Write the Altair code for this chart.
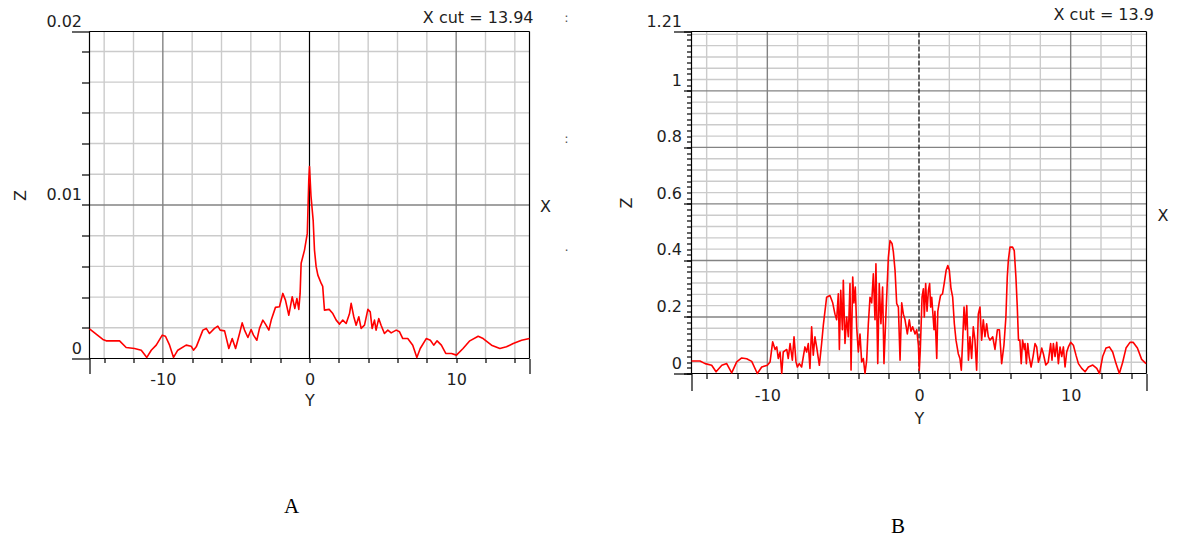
import altair as alt
import pandas as pd

FONT = "DejaVu Sans"
INK = "#1e1e1e"
RED = "#ff0000"
LIGHT = "#cbcbcb"
DARK = "#838383"

# ---------------- profile A: Z along Y, X cut = 13.94 ----------------
a_y = [-15.0, -14.09, -13.86, -12.95, -12.5, -11.93, -11.47, -11.09, -10.79, -10.45,
       -10.04, -9.82, -9.54, -9.27, -8.98, -8.41, -8.07, -7.91, -7.72, -7.27,
       -7.04, -6.82, -6.48, -6.25, -6.09, -5.79, -5.5, -5.27, -5.04, -4.77,
       -4.59, -4.43, -4.2, -3.98, -3.82, -3.59, -3.41, -3.18, -3.0, -2.77,
       -2.61, -2.32, -2.05, -1.82, -1.64, -1.41, -1.18, -1.0, -0.86, -0.73,
       -0.64, -0.57, -0.34, -0.15, -0.05, 0.0, 0.1, 0.25, 0.34, 0.45,
       0.57, 0.8, 0.9, 1.02, 1.34, 1.59, 1.82, 2.05, 2.27, 2.5,
       2.73, 2.84, 3.02, 3.18, 3.36, 3.52, 3.75, 3.98, 4.14, 4.27,
       4.43, 4.54, 4.72, 4.88, 5.11, 5.34, 5.57, 5.91, 6.14, 6.36,
       6.7, 7.04, 7.32, 7.55, 7.96, 8.24, 8.47, 8.7, 8.99, 9.29,
       9.68, 10.02, 10.47, 10.93, 11.5, 11.84, 12.41, 12.98, 13.43, 13.89,
       14.46, 15.0]
a_z = [0.00193, 0.00124, 0.00115, 0.00115, 0.00072, 0.00065, 0.00054, 0.00007, 0.00054, 0.00087,
       0.00152, 0.00145, 0.00087, 0.00007, 0.00054, 0.00087, 0.00080, 0.00054, 0.00076, 0.00185,
       0.00196, 0.00163, 0.00196, 0.00211, 0.00185, 0.00180, 0.00065, 0.00130, 0.00065, 0.00163,
       0.00232, 0.00185, 0.00137, 0.00189, 0.00152, 0.00119, 0.00196, 0.00250, 0.00224, 0.00185,
       0.00250, 0.00333, 0.00337, 0.00424, 0.00380, 0.00282, 0.00402, 0.00326, 0.00391, 0.00320,
       0.00424, 0.00620, 0.00706, 0.00815, 0.01160, 0.01250, 0.01060, 0.00900, 0.00706, 0.00600,
       0.00543, 0.00489, 0.00470, 0.00315, 0.00320, 0.00293, 0.00250, 0.00224, 0.00250, 0.00228,
       0.00293, 0.00359, 0.00272, 0.00217, 0.00272, 0.00196, 0.00217, 0.00320, 0.00304, 0.00196,
       0.00250, 0.00185, 0.00260, 0.00217, 0.00163, 0.00185, 0.00167, 0.00185, 0.00174, 0.00130,
       0.00130, 0.00087, 0.00007, 0.00065, 0.00130, 0.00119, 0.00087, 0.00115, 0.00087, 0.00033,
       0.00033, 0.00022, 0.00065, 0.00115, 0.00145, 0.00130, 0.00087, 0.00065, 0.00076, 0.00098,
       0.00119, 0.00130]

# ---------------- profile B: Z along Y, X cut = 13.9 ----------------
b_y = [-15.0, -14.44, -14.1, -13.67, -13.38, -13.0, -12.68, -12.35, -12.02, -11.69,
       -11.36, -11.03, -10.66, -10.37, -10.0, -9.82, -9.65, -9.49, -9.38, -9.28,
       -9.16, -9.05, -8.95, -8.72, -8.62, -8.5, -8.35, -8.24, -8.11, -8.02,
       -7.89, -7.74, -7.52, -7.41, -7.3, -7.19, -7.08, -6.97, -6.86, -6.75,
       -6.57, -6.42, -6.31, -6.09, -5.87, -5.69, -5.54, -5.43, -5.32, -5.25,
       -5.16, -5.05, -4.99, -4.88, -4.77, -4.66, -4.55, -4.48, -4.37, -4.29,
       -4.2, -4.11, -4.0, -3.89, -3.78, -3.67, -3.56, -3.45, -3.34, -3.23,
       -3.12, -3.01, -2.9, -2.84, -2.72, -2.62, -2.51, -2.4, -2.31, -2.18,
       -2.02, -1.91, -1.78, -1.69, -1.58, -1.47, -1.36, -1.25, -1.14, -1.03,
       -0.92, -0.77, -0.64, -0.53, -0.42, -0.26, -0.15, -0.04, 0.02, 0.09,
       0.2, 0.29, 0.35, 0.44, 0.53, 0.62, 0.7, 0.77, 0.84, 0.99,
       1.05, 1.17, 1.24, 1.33, 1.42, 1.55, 1.66, 1.79, 1.9, 2.0,
       2.11, 2.22, 2.33, 2.44, 2.59, 2.7, 2.79, 2.88, 2.97, 3.06,
       3.15, 3.26, 3.36, 3.47, 3.58, 3.69, 3.8, 3.91, 4.02, 4.13,
       4.24, 4.35, 4.46, 4.57, 4.68, 4.86, 5.01, 5.17, 5.3, 5.45,
       5.6, 5.73, 5.82, 5.89, 6.0, 6.17, 6.28, 6.39, 6.48, 6.56,
       6.65, 6.74, 6.83, 6.94, 6.99, 7.08, 7.17, 7.26, 7.39, 7.52,
       7.65, 7.76, 7.87, 7.98, 8.09, 8.2, 8.36, 8.52, 8.68, 8.77,
       8.86, 8.97, 9.08, 9.19, 9.3, 9.41, 9.52, 9.63, 9.74, 9.85,
       10.0, 10.18, 10.35, 10.51, 10.73, 10.95, 11.17, 11.46, 11.72, 11.9,
       12.11, 12.33, 12.55, 12.77, 12.99, 13.21, 13.43, 13.65, 13.91, 14.13,
       14.4, 14.68, 14.97]
b_z = [0.044, 0.044, 0.035, 0.029, 0.006, 0.029, 0.035, 0.002, 0.041, 0.055,
       0.052, 0.043, 0.0, 0.023, 0.029, 0.041, 0.112, 0.085, 0.094, 0.053,
       0.076, 0.0, 0.076, 0.085, 0.053, 0.106, 0.047, 0.13, 0.041, 0.023,
       0.035, 0.023, 0.094, 0.076, 0.106, 0.018, 0.165, 0.065, 0.13, 0.094,
       0.029, 0.106, 0.17, 0.27, 0.276, 0.25, 0.21, 0.19, 0.282, 0.085,
       0.294, 0.155, 0.33, 0.106, 0.2, 0.13, 0.318, 0.012, 0.341, 0.25,
       0.306, 0.165, 0.076, 0.14, 0.041, 0.053, 0.0, 0.047, 0.176, 0.27,
       0.25, 0.353, 0.19, 0.388, 0.035, 0.318, 0.176, 0.306, 0.035, 0.21,
       0.41, 0.47, 0.46, 0.43, 0.365, 0.247, 0.235, 0.047, 0.25, 0.21,
       0.19, 0.14, 0.19, 0.15, 0.165, 0.14, 0.155, 0.1, 0.012, 0.09,
       0.27, 0.3, 0.2, 0.318, 0.22, 0.294, 0.318, 0.235, 0.27, 0.155,
       0.22, 0.053, 0.22, 0.25, 0.276, 0.282, 0.318, 0.365, 0.382, 0.365,
       0.3, 0.27, 0.176, 0.118, 0.07, 0.053, 0.012, 0.118, 0.235, 0.155,
       0.24, 0.047, 0.13, 0.053, 0.165, 0.118, 0.012, 0.21, 0.235, 0.118,
       0.19, 0.13, 0.176, 0.13, 0.118, 0.13, 0.085, 0.155, 0.155, 0.035,
       0.1, 0.2, 0.341, 0.4, 0.447, 0.447, 0.435, 0.341, 0.235, 0.118,
       0.118, 0.035, 0.118, 0.085, 0.106, 0.035, 0.106, 0.06, 0.023, 0.06,
       0.106, 0.094, 0.04, 0.06, 0.09, 0.07, 0.03, 0.04, 0.106, 0.047,
       0.106, 0.06, 0.11, 0.035, 0.094, 0.06, 0.094, 0.023, 0.076, 0.094,
       0.11, 0.1, 0.065, 0.035, 0.018, 0.006, 0.023, 0.03, 0.018, 0.0,
       0.06, 0.09, 0.094, 0.076, 0.035, 0.0, 0.04, 0.09, 0.11, 0.11,
       0.09, 0.05, 0.035]

# ---------------- axis values ----------------
y_span = [-15, 15]
y_ticks = [-14, -12, -10, -8, -6, -4, -2, 0, 2, 4, 6, 8, 10, 12, 14]
y_grid = [-14, -12, -8, -6, -4, -2, 2, 4, 6, 8, 12, 14]
y_grid_major = [-10, 10]
y_tick_labels = [-10, 0, 10]

a_top = 0.0213
a_ticks = [0.002, 0.004, 0.006, 0.008, 0.010, 0.012, 0.014, 0.016, 0.018, 0.020]
a_grid = [0.002, 0.004, 0.006, 0.008, 0.012, 0.014, 0.016, 0.018, 0.020]
a_grid_major = [0.01]
a_tick_labels = [0, 0.01, a_top]

b_top = 1.21
b_ticks = [round(0.02 * i, 2) for i in range(61)]
b_grid = [0.04, 0.08, 0.12, 0.16, 0.24, 0.28, 0.32, 0.36, 0.44, 0.48, 0.52, 0.56,
          0.64, 0.68, 0.72, 0.76, 0.84, 0.88, 0.92, 0.96, 1.04, 1.08, 1.12, 1.16, 1.20]
b_grid_major = [0.2, 0.4, 0.6, 0.8, 1.0]
b_tick_labels = [0, 0.2, 0.4, 0.6, 0.8, 1.0, b_top]

Y_LABEL_EXPR = f"indexof({y_tick_labels}, datum.value) >= 0 ? toString(datum.value) : ''"
Z_LABEL_EXPR = "format(datum.value, '.2~f')"

# ---------------- layout: both panels share one drawing area ----------------
W, H = 1057, 342            # full drawing area
A_X0, A_X1, A_H = 0, 440, 327
B_X0, B_X1, B_H = 602, 1057, 342
GRID_W = 1.4


class Panel:
    def __init__(self, x0, x1, h, top):
        self.x0, self.x1, self.h, self.top = x0, x1, h, top
        self.xs = alt.Scale(domain=y_span, range=[x0, x1], nice=False, zero=False)
        self.ys = alt.Scale(domain=[0, top], range=[h, 0], nice=False, zero=False)
        self.left_offset = -x0          # left axes sit on the panel's left edge
        self.bottom_offset = h - H      # bottom axes sit on the panel's bottom edge

    def vrules(self, values, color, axis=None, dash=None, width=GRID_W):
        props = dict(color=color, strokeWidth=width)
        if dash:
            props["strokeDash"] = dash
        return alt.Chart(pd.DataFrame({"v": values})).mark_rule(**props).encode(
            x=alt.X("v:Q", scale=self.xs, axis=axis),
            y=alt.YDatum(0, type="quantitative", scale=self.ys, axis=None),
            y2=alt.Y2Datum(self.top),
        )

    def hrules(self, values, color, axis=None, width=GRID_W):
        return alt.Chart(pd.DataFrame({"v": values})).mark_rule(color=color, strokeWidth=width).encode(
            y=alt.Y("v:Q", scale=self.ys, axis=axis),
            x=alt.XDatum(-15, type="quantitative", scale=self.xs, axis=None),
            x2=alt.X2Datum(15),
        )

    def curve(self, pos, z, width):
        return alt.Chart(pd.DataFrame({"pos": pos, "z": z})).mark_line(
            color=RED, strokeWidth=width, strokeJoin="round"
        ).encode(
            x=alt.X("pos:Q", scale=self.xs, axis=None),
            y=alt.Y("z:Q", scale=self.ys, axis=None),
        )

    def note(self, text, x, y, dx, dy, size=16, font=FONT, color=INK, align="center"):
        return alt.Chart(pd.DataFrame({"t": [text]})).mark_text(
            font=font, fontSize=size, color=color, align=align, baseline="middle", dx=dx, dy=dy
        ).encode(
            x=alt.XDatum(x, type="quantitative", scale=self.xs, axis=None),
            y=alt.YDatum(y, type="quantitative", scale=self.ys, axis=None),
            text="t:N",
        )

    def left_ticks(self, values, size):
        return alt.Axis(orient="left", offset=self.left_offset, values=values, tickSize=size,
                        labels=False, grid=False, domain=False, title=None)

    def bottom_ticks(self, values, size):
        return alt.Axis(orient="bottom", offset=self.bottom_offset, values=values, tickSize=size,
                        labels=False, grid=False, domain=False, title=None)

    def bottom_axis(self, size, pad, title_y):
        return alt.Axis(orient="bottom", offset=self.bottom_offset, values=y_ticks, tickSize=size,
                        labelPadding=pad, labelExpr=Y_LABEL_EXPR, labelFlush=False,
                        labelOverlap=False, grid=False, domain=False,
                        title="Y", titleX=(self.x0 + self.x1) / 2, titleY=title_y,
                        titleBaseline="middle", titleAlign="center")

    def label_axis(self, values, title_x, **kw):
        return alt.Axis(orient="left", offset=self.left_offset, values=values,
                        labelOffset=-10.5, labelExpr=Z_LABEL_EXPR, labelOverlap=False,
                        grid=False, domain=False, title="Z", titleX=title_x, titleY=self.h / 2,
                        titleAngle=270, titleAlign="center", titleBaseline="middle", **kw)


pa = Panel(A_X0, A_X1, A_H, a_top)
pb = Panel(B_X0, B_X1, B_H, b_top)

layers_a = [
    pa.vrules(y_grid, LIGHT, axis=pa.bottom_axis(4, 9.2, 41.5)),
    pa.hrules(a_grid, LIGHT, axis=pa.left_ticks(a_ticks, 8)),
    pa.vrules(y_grid_major, DARK, axis=pa.bottom_ticks(y_span, 15)),
    pa.hrules(a_grid_major, DARK,
              axis=pa.label_axis(a_tick_labels, -68.7, ticks=False, labelPadding=8)),
    pa.vrules([0], "black", width=1.2),
    pa.vrules(y_span, "black", width=1.2),
    pa.hrules([0, a_top], "black", axis=pa.left_ticks([0, a_top], 18), width=1.2),
    pa.curve(a_y, a_z, 1.6),
    pa.note("X cut = 13.94", 15, a_top, 4, -14, align="right"),
    pa.note("X", 15, a_top / 2, 16, 12),
    pa.note(":", 15, a_top, 37, -14, size=13, color="#555"),
    pa.note(":", 15, a_top, 37, 107, size=13, color="#555"),
    pa.note(".", 15, a_top / 2, 37, 52, size=13, color="#555"),
    pa.note("A", 0, 0, -18, 148.5, size=21, font="Liberation Serif", color="black"),
]

layers_b = [
    pb.vrules(y_grid, LIGHT, axis=pb.bottom_axis(5, 8.7, 44.5)),
    pb.hrules(b_grid, LIGHT, axis=pb.left_ticks(b_ticks, 5)),
    pb.vrules(y_grid_major, DARK, axis=pb.bottom_ticks(y_span, 17)),
    pb.hrules(b_grid_major, DARK,
              axis=pb.label_axis(b_tick_labels, -64.6, tickSize=8, labelPadding=2)),
    pb.vrules([0], "black", dash=[5, 2], width=1.2),
    pb.vrules(y_span, "black", width=1.2),
    pb.hrules([0, b_top], "black", axis=pb.left_ticks([0, b_top], 18), width=1.2),
    pb.curve(b_y, b_z, 1.6),
    pb.note("X cut = 13.9", 15, b_top, 7.5, -16.6, align="right"),
    pb.note("X", 15, b_top / 2, 16.5, 13.5),
    pb.note("B", 0, 0, -21, 153.5, size=21, font="Liberation Serif", color="black"),
]

chart = alt.layer(*layers_a, *layers_b).resolve_scale(
    x="independent", y="independent"
).resolve_axis(
    x="independent", y="independent"
).properties(
    width=W, height=H,
    autosize=alt.AutoSizeParams(type="none"),
    padding={"left": 89.5, "top": 31.5, "right": 1177 - 89.5 - W, "bottom": 545 - 31.5 - H},
    background="white",
).configure_view(
    stroke=None
).configure_axis(
    labelFont=FONT, labelFontSize=16, labelColor=INK,
    titleFont=FONT, titleFontSize=16, titleFontWeight="normal", titleColor=INK,
    tickColor="black", tickWidth=1.2,
)

chart.save("out.html", embed_options={"renderer": "svg", "actions": False})
